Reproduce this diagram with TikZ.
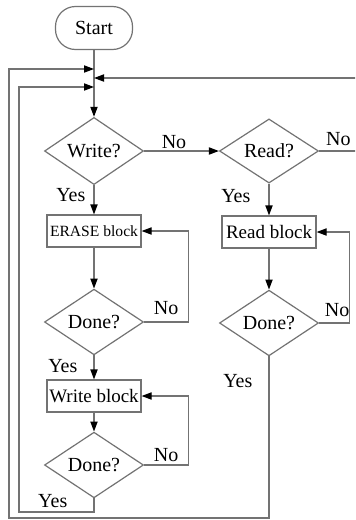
\documentclass[tikz,border=0pt]{standalone}
\usepackage{fontspec}
\setmainfont{Liberation Serif}
\usepackage{xcolor}
\usetikzlibrary{arrows.meta}
\usetikzlibrary{shapes.geometric}

\definecolor{linegray}{gray}{0.45}

\begin{document}
\begin{tikzpicture}[x=0.5pt, y=-0.5pt,
    every node/.style={font=\fontsize{10}{12}\selectfont},
    terminal/.style={draw=linegray, line width=0.6pt, rounded corners=10pt,
        minimum width=38.5pt, minimum height=21.5pt},
    blockbox/.style={draw=linegray, line width=0.6pt, minimum width=47pt,
        minimum height=16pt, inner sep=1pt, font=\fontsize{9.5}{11}\selectfont},
    decision/.style={diamond, draw=linegray, line width=0.6pt,
        minimum width=49.5pt, minimum height=24.5pt, inner sep=0pt},
    flow/.style={draw=linegray, line width=0.6pt,
        -{Triangle[length=5pt,width=3.6pt,color=black]}},
    lab/.style={inner sep=0pt}
]
    \useasboundingbox (0,0) rectangle (355,520);
    \clip (0,0) rectangle (355,520);

    % Nodes
    \node[terminal] (start) at (94,28) {Start};
    \node[decision] (write) at (94,151) {Write?};
    \node[blockbox, font=\fontsize{7.8}{9}\selectfont] (erase) at (94,231) {ERASE block};
    \node[decision] (done1) at (94,322) {Done?};
    \node[blockbox] (wblock) at (94,396) {Write block};
    \node[decision] (done2) at (94,465) {Done?};

    \node[decision] (read) at (269,151) {Read?};
    \node[blockbox] (rblock) at (269,232) {Read block};
    \node[decision] (done3) at (269,323) {Done?};

    % Junctions on the main line
    \coordinate (j1) at (94,69);
    \coordinate (j2) at (94,78);
    \coordinate (j3) at (94,87);
    \coordinate (outer) at (9,518);
    \coordinate (inner) at (19,512);

    % Main column
    \draw[flow] (start) -- (write);
    \draw[flow] (write) -- node[lab, left=4pt, pos=0.35] {Yes} (erase);
    \draw[flow] (erase) -- (done1);
    \draw[flow] (done1) -- node[lab, left=8pt, pos=0.45] {Yes} (wblock);
    \draw[flow] (wblock) -- (done2);

    % Retry loops
    \draw[flow] (done1.east) -- node[lab, above=3.5pt] {No} ++(44,0) |- (erase.east);
    \draw[flow] (done2.east) -- node[lab, above=1.5pt] {No} ++(44,0) |- (wblock.east);
    \draw[flow] (done3.east) -- node[lab, above=3pt, pos=0.6] {No} ++(30,0) |- (rblock.east);

    % Read column
    \draw[flow] (write) -- node[lab, above=1pt, pos=0.4] {No} (read);
    \draw[flow] (read) -- node[lab, left=9pt, pos=0.4] {Yes} (rblock);
    \draw[flow] (rblock) -- (done3);

    % Back to the top
    \draw[flow] (read.east) -- node[lab, above=2.5pt, pos=0.32] {No} ++(60,0) |- (j2);
    \draw[flow] (done2.south) -- (done2.south |- inner)
        -- node[lab, above=2pt, pos=0.55] {Yes} (inner) |- (j3);
    \draw[flow] (done3.south) -- node[lab, left=8pt, pos=0.15] {Yes} (done3.south |- outer)
        -- (outer) |- (j1);
\end{tikzpicture}
\end{document}
